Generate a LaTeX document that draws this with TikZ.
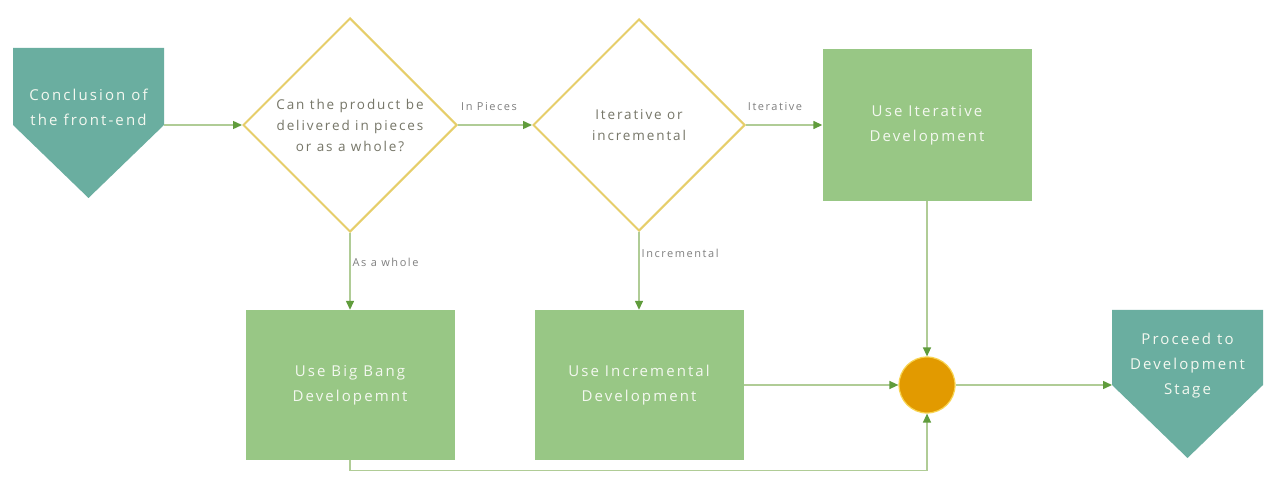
\documentclass[tikz,border=0pt]{standalone}
\usepackage{fontspec}
\setmainfont{Open Sans}[LetterSpace=14]
\usetikzlibrary{shapes.geometric,arrows.meta}
\definecolor{tealfill}{RGB}{106,174,160}
\definecolor{boxgreen}{RGB}{152,199,133}
\definecolor{diagold}{RGB}{230,206,106}
\definecolor{linegreen}{RGB}{176,204,150}
\definecolor{tipgreen}{RGB}{96,156,60}
\definecolor{mergeorange}{RGB}{226,154,0}
\definecolor{mergering}{RGB}{248,212,80}
\definecolor{qtext}{RGB}{118,118,104}
\definecolor{lbltext}{RGB}{128,128,128}
\definecolor{wtext}{RGB}{244,248,240}
\tikzset{
  shapetext/.style={text=wtext, align=center, font=\fontsize{15}{25}\selectfont},
  decision/.style={diamond, draw=diagold, line width=2pt, fill=white, inner sep=0pt,
    minimum width=214pt, minimum height=214pt, aspect=1, text=qtext, align=center,
    font=\fontsize{13.5}{21}\selectfont},
  process/.style={rectangle, fill=boxgreen, minimum width=209pt, minimum height=152pt,
    inner sep=0pt, text=wtext, align=center, font=\fontsize{15}{25}\selectfont},
  merge/.style={circle, fill=mergeorange, draw=mergering, line width=1.2pt, minimum size=56pt, inner sep=0pt},
  flow/.style={draw=linegreen, line width=1.4pt, -{Triangle[length=9pt,width=8pt,color=tipgreen]}},
  edgelbl/.style={text=lbltext, font=\fontsize{11}{12}\selectfont, inner sep=2pt}
}
\begin{document}
\begin{tikzpicture}[x=1pt,y=-1pt]
\useasboundingbox (0,0) rectangle (1265,502);
\fill[white] (0,0) rectangle (1265,502);

% off-page connectors
\fill[tealfill] (13,48) -- (164,48) -- (164,125) -- (88.5,198) -- (13,125) -- cycle;
\node[shapetext] (start) at (88.5,107) {Conclusion of\\the front-end};
\coordinate (startout) at (164,125);

\fill[tealfill] (1112,310) -- (1263,310) -- (1263,385) -- (1187.5,458) -- (1112,385) -- cycle;
\node[shapetext] (proceed) at (1187.5,366) {Proceed to\\Development\\Stage};
\coordinate (procin) at (1112,385);

% decisions
\node[decision] (whole) at (350,125) {Can the product be\\delivered in pieces\\or as a whole?};
\node[decision, minimum width=212pt, minimum height=212pt] (kind) at (639,125) {Iterative or\\incremental};

% processes
\node[process] (iter) at (927,125) {Use Iterative\\Development};
\node[process, minimum height=150pt] (bigbang) at (350,385) {Use Big Bang\\Developemnt};
\node[process, minimum height=150pt] (incr) at (639,385) {Use Incremental\\Development};

\node[merge] (join) at (927,385) {};

% connectors
\draw[flow] (startout) -- (whole.west);
\draw[flow] (whole.east) -- node[edgelbl, above=12pt, pos=0.42] {In Pieces} (kind.west);
\draw[flow] (kind.east) -- node[edgelbl, above=12pt, pos=0.38] {Iterative} (iter.west);
\draw[flow] (whole.south) -- node[edgelbl, right, pos=0.38] {As a whole} (bigbang.north);
\draw[flow] (kind.south) -- node[edgelbl, right, pos=0.28] {Incremental} (incr.north);
\draw[flow] (iter.south) -- (join.north);
\draw[flow] (incr.east) -- (join.west);
\draw[flow] (bigbang.south) -- ++(0,10) -| (join.south);
\draw[flow] (join.east) -- (procin);
\end{tikzpicture}
\end{document}
